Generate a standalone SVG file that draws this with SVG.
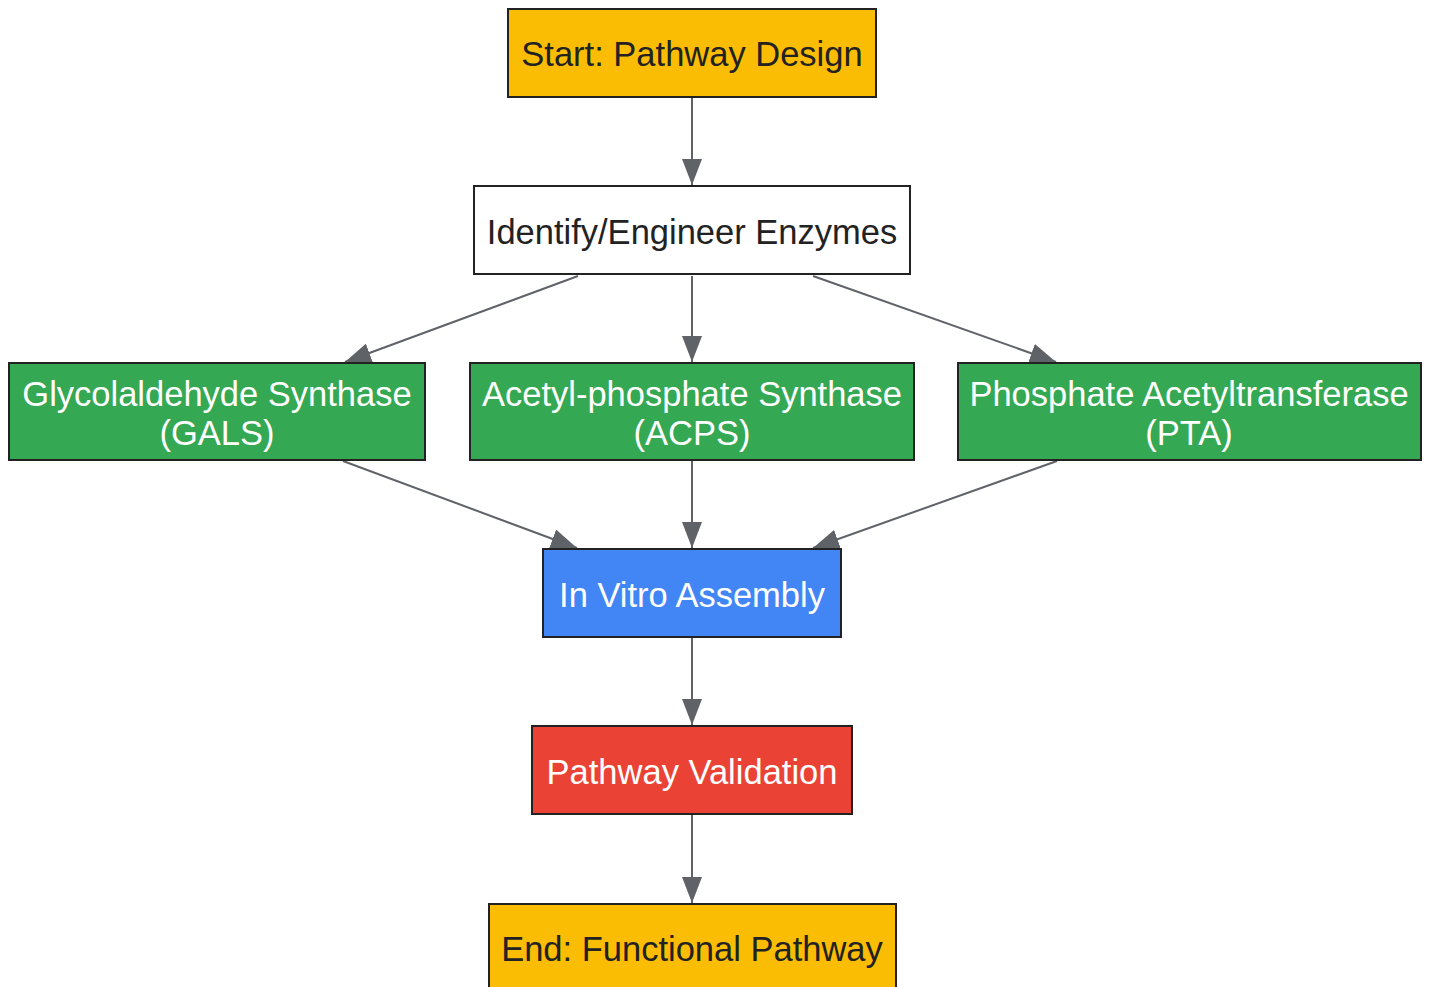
<svg xmlns="http://www.w3.org/2000/svg" width="1430" height="987" viewBox="0 0 1430 987">
<style>
.n{stroke:#222;stroke-width:2}
.t{font-family:"Liberation Sans",Arial,sans-serif;font-size:34.5px;text-anchor:middle}
.d{fill:#222}
.w{fill:#fff}
.e{stroke:#5f6368;stroke-width:2;fill:none;marker-end:url(#a)}
</style>
<defs>
<marker id="a" markerWidth="26" markerHeight="20" refX="26" refY="10" orient="auto" markerUnits="userSpaceOnUse">
<path d="M0,0 L26,10 L0,20 Z" fill="#5f6368"/>
</marker>
</defs>
<rect width="1430" height="987" fill="#fff"/>
<g id="edges">
<line class="e" x1="692" y1="98" x2="692" y2="185"/>
<line class="e" x1="578" y1="276" x2="345" y2="362"/>
<line class="e" x1="692" y1="276" x2="692" y2="362"/>
<line class="e" x1="813" y1="276" x2="1056" y2="362"/>
<line class="e" x1="343" y1="461" x2="577" y2="548"/>
<line class="e" x1="692" y1="461" x2="692" y2="548"/>
<line class="e" x1="1057" y1="461" x2="813" y2="548"/>
<line class="e" x1="692" y1="638" x2="692" y2="725"/>
<line class="e" x1="692" y1="815" x2="692" y2="903"/>
</g>
<g id="start"><rect class="n" x="508" y="9" width="368" height="88" fill="#fbbc04"/><text class="t d" x="692" y="66">Start: Pathway Design</text></g>
<g id="identify"><rect class="n" x="474" y="186" width="436" height="88" fill="#fff"/><text class="t d" x="692" y="244">Identify/Engineer Enzymes</text></g>
<g id="gals"><rect class="n" x="9" y="363" width="416" height="97" fill="#34a853"/><text class="t w" x="217" y="406">Glycolaldehyde Synthase</text><text class="t w" x="217" y="445">(GALS)</text></g>
<g id="acps"><rect class="n" x="470" y="363" width="444" height="97" fill="#34a853"/><text class="t w" x="692" y="406">Acetyl-phosphate Synthase</text><text class="t w" x="692" y="445">(ACPS)</text></g>
<g id="pta"><rect class="n" x="958" y="363" width="463" height="97" fill="#34a853"/><text class="t w" x="1189" y="406">Phosphate Acetyltransferase</text><text class="t w" x="1189" y="445">(PTA)</text></g>
<g id="assembly"><rect class="n" x="543" y="549" width="298" height="88" fill="#4285f4"/><text class="t w" x="692" y="607">In Vitro Assembly</text></g>
<g id="validation"><rect class="n" x="532" y="726" width="320" height="88" fill="#ea4335"/><text class="t w" x="692" y="784">Pathway Validation</text></g>
<g id="end"><rect class="n" x="489" y="904" width="407" height="88" fill="#fbbc04"/><text class="t d" x="692" y="961">End: Functional Pathway</text></g>
</svg>
